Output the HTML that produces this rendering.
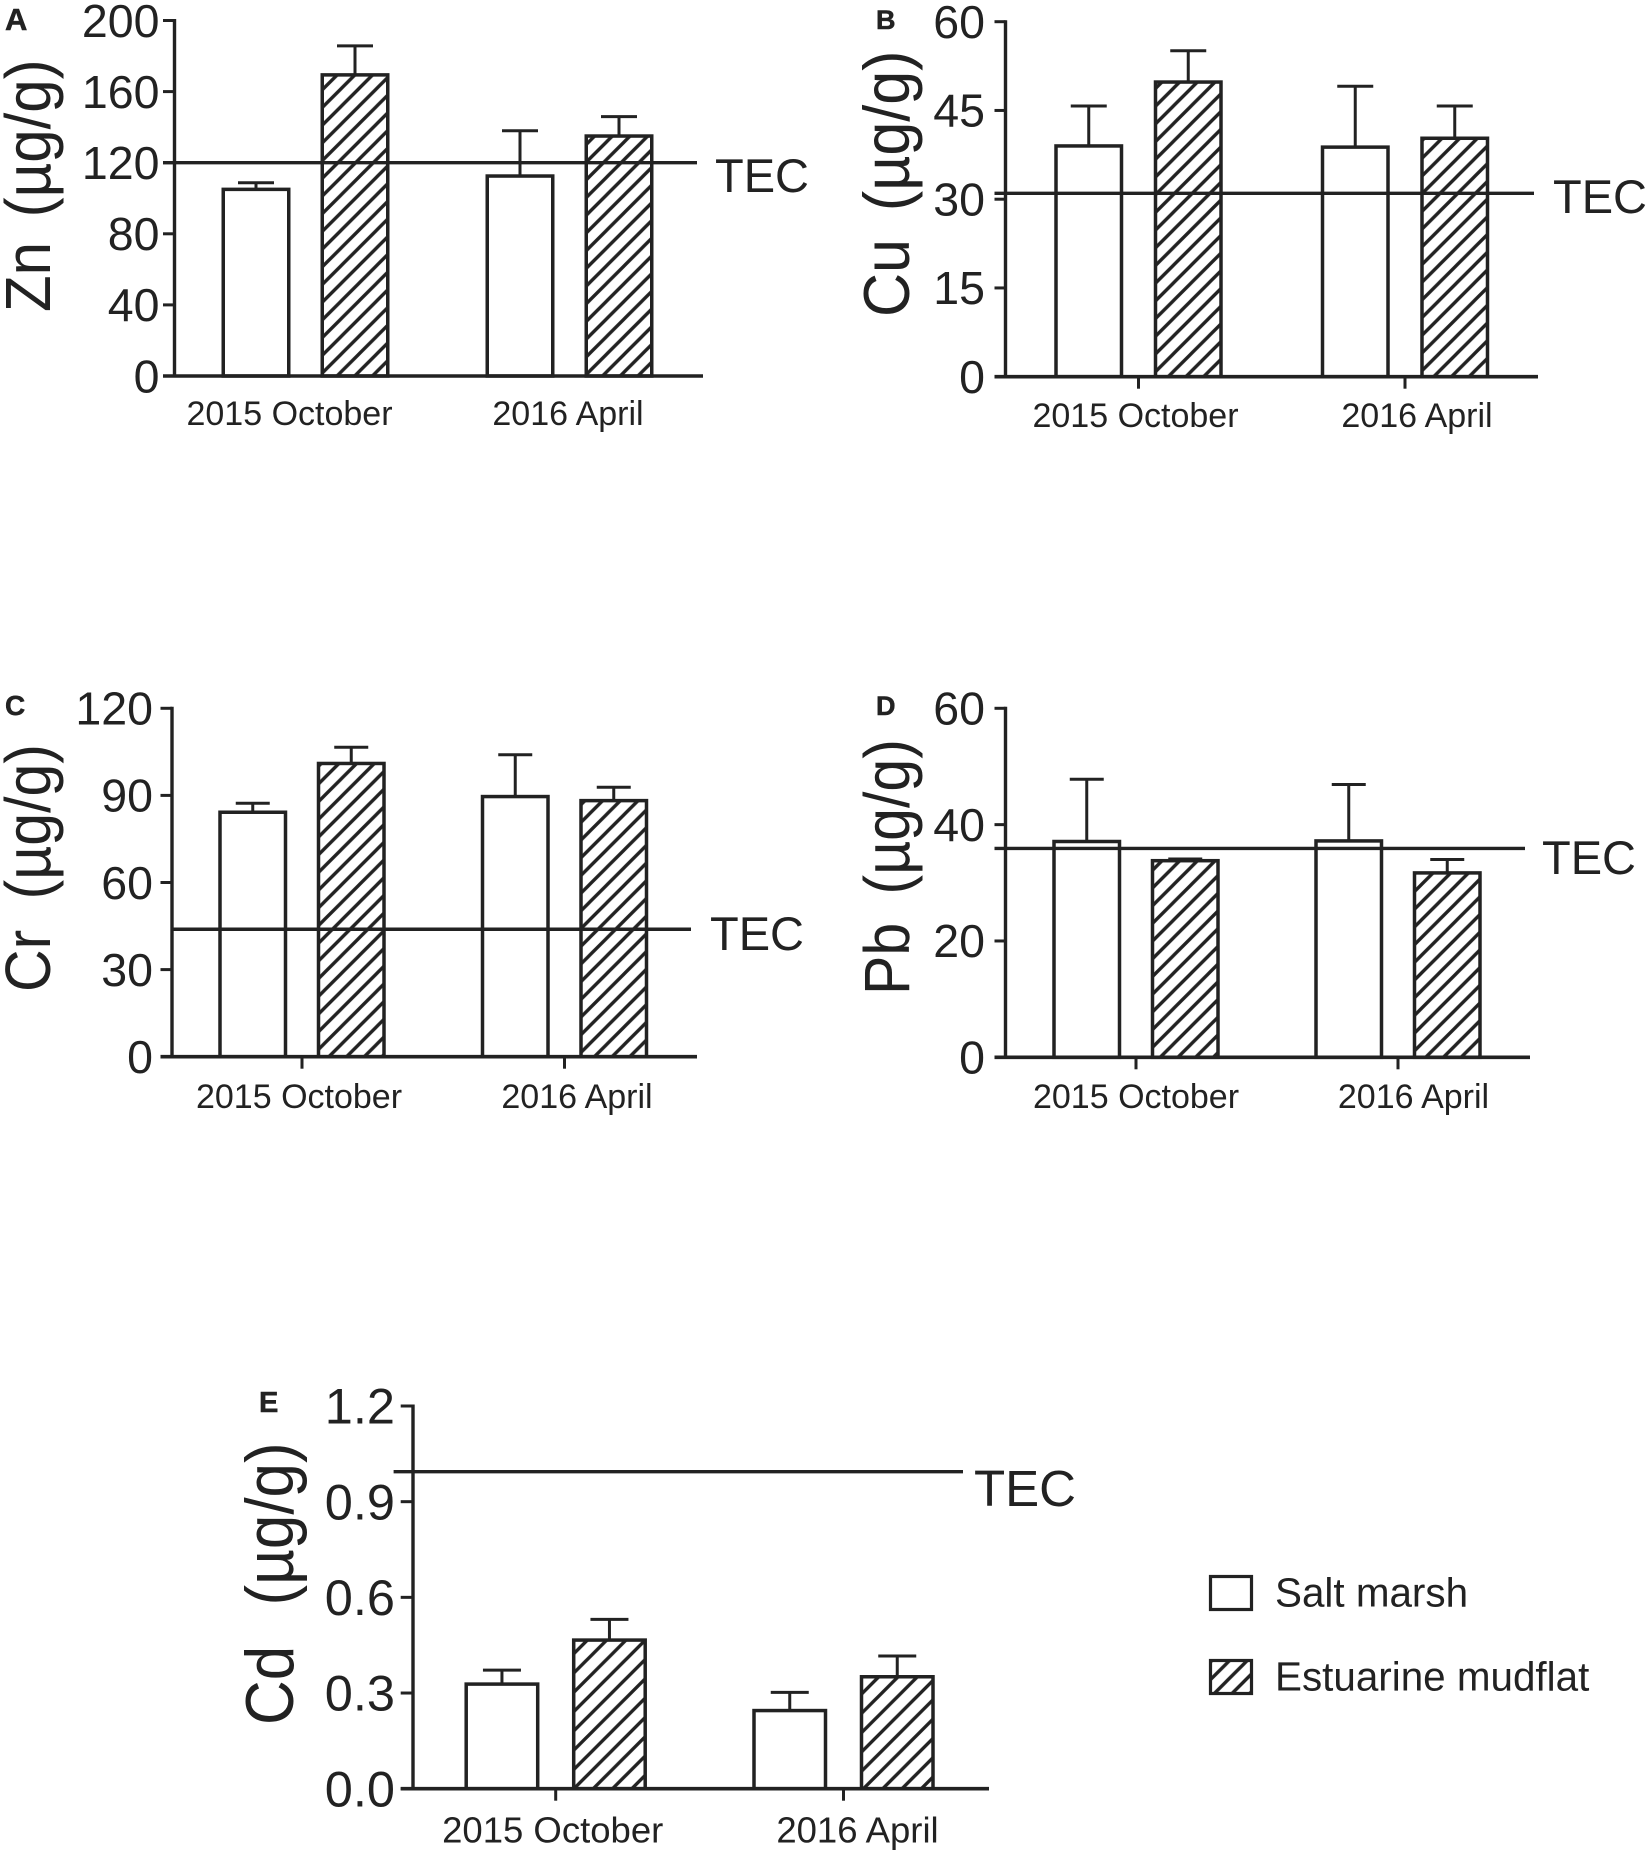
<!DOCTYPE html>
<html lang="en">
<head>
<meta charset="utf-8">
<title>Heavy metal concentrations</title>
<style>
html,body{margin:0;padding:0;background:#fff;}
svg{display:block;}
text{font-family:"Liberation Sans",Arial,sans-serif;fill:#222;}
</style>
</head>
<body>
<svg id="figure" xmlns="http://www.w3.org/2000/svg" width="1650" height="1854" viewBox="0 0 1650 1854"></svg>
<script>
const categories = ['2015 October', '2016 April'];
const seriesNames = ['Salt marsh', 'Estuarine mudflat'];

const znMarsh = [105, 112.5];
const znMudflat = [169.4, 135];
const znMarshSd = [3.7, 25.5];
const znMudflatSd = [16.3, 10.9];
const znTicks = ['0', '40', '80', '120', '160', '200'];
const znTec = 120;

const cuMarsh = [39, 38.8];
const cuMudflat = [49.8, 40.3];
const cuMarshSd = [6.75, 10.3];
const cuMudflatSd = [5.3, 5.45];
const cuTicks = ['0', '15', '30', '45', '60'];
const cuTec = 31;

const crMarsh = [84.2, 89.6];
const crMudflat = [101, 88.2];
const crMarshSd = [3.1, 14.4];
const crMudflatSd = [5.6, 4.6];
const crTicks = ['0', '30', '60', '90', '120'];
const crTec = 43.9;

const pbMarsh = [37.1, 37.2];
const pbMudflat = [33.8, 31.7];
const pbMarshSd = [10.7, 9.7];
const pbMudflatSd = [0.3, 2.3];
const pbTicks = ['0', '20', '40', '60'];
const pbTec = 35.9;

const cdMarsh = [0.328, 0.245];
const cdMudflat = [0.466, 0.351];
const cdMarshSd = [0.044, 0.057];
const cdMudflatSd = [0.065, 0.065];
const cdTicks = ['0.0', '0.3', '0.6', '0.9', '1.2'];
const cdTec = 0.994;

const INK = '#222';
const NS = 'http://www.w3.org/2000/svg';
const svg = document.getElementById('figure');

function make(tag, attrs, parent) {
  const node = document.createElementNS(NS, tag);
  Object.keys(attrs).forEach(function (k) { node.setAttribute(k, attrs[k]); });
  parent.appendChild(node);
  return node;
}

const defs = make('defs', {}, svg);

function hatchPattern(id, spacing, phase) {
  const p = make('pattern', {
    id: id, width: spacing, height: spacing, patternUnits: 'userSpaceOnUse',
    patternTransform: 'translate(' + phase + ' 0)'
  }, defs);
  make('rect', { x: 0, y: 0, width: spacing, height: spacing, fill: '#fff' }, p);
  make('path', {
    d: 'M-2 ' + (spacing + 2) + 'L' + (spacing + 2) + ' -2M-2 2L2 -2M' + (spacing - 2) + ' ' + (spacing + 2) + 'L' + (spacing + 2) + ' ' + (spacing - 2),
    stroke: INK, 'stroke-width': 3.4, fill: 'none'
  }, p);
}

function drawPanel(cfg) {
  const g = make('g', {}, svg);
  
  

  const yMax = parseFloat(cfg.ticks[cfg.ticks.length - 1]);
  const y = function (v) { return cfg.base - (v / yMax) * (cfg.base - cfg.top); };
  const xCat = function (i) { return cfg.cat0 + i * cfg.catStep; };
  const patId = 'hatch-' + cfg.key;
  hatchPattern(patId, cfg.hatch, cfg.phase);

  const letter = make('text', {
    x: cfg.letterX, y: cfg.letterY, 'font-size': cfg.letterSize, 'font-weight': 700,
    stroke: '#222', 'stroke-width': 0.5
  }, g);
  letter.textContent = cfg.letter;
  
  

  const titleFont = cfg.titleSize / cfg.titleSquash;
  const title = make('text', {
    transform: 'translate(' + cfg.titleX + ' ' + cfg.titleBottom + ') rotate(-90) scale(' + cfg.titleSquash + ' 1)',
    x: 0, y: 0, 'font-size': titleFont
  }, g);
  
  
  const titleMetal = make('tspan', {}, title);
  titleMetal.textContent = cfg.metal + ' ';
  const titleUnit = make('tspan', { dx: cfg.titleGap / cfg.titleSquash }, title);
  titleUnit.textContent = '(µg/g)';

  const series = [
    { vals: cfg.marsh, sd: cfg.marshSd, offset: -cfg.barGap / 2, fill: '#fff', name: 'salt-marsh' },
    { vals: cfg.mudflat, sd: cfg.mudflatSd, offset: cfg.barGap / 2, fill: 'url(#' + patId + ')', name: 'estuarine-mudflat' }
  ];

  series.forEach(function (s) {
    s.vals.forEach(function (v, i) {
      const cx = xCat(i) + s.offset;
      const err = make('path', {
        d: 'M' + cx + ' ' + y(v) + 'V' + y(v + s.sd[i]) + 'M' + (cx - cfg.cap / 2) + ' ' + y(v + s.sd[i]) + 'H' + (cx + cfg.cap / 2),
        stroke: INK, 'stroke-width': 3, fill: 'none'
      }, g);
      
      

      const bar = make('rect', {
        x: cx - cfg.barW / 2, y: y(v), width: cfg.barW, height: cfg.base - y(v),
        fill: s.fill, stroke: INK, 'stroke-width': 3.5
      }, g);
      
      
    });
  });

  const tec = make('line', {
    x1: cfg.tecX1, x2: cfg.tecX2, y1: y(cfg.tec), y2: y(cfg.tec), stroke: INK, 'stroke-width': 3.4
  }, g);
  
  

  const tecLabel = make('text', { x: cfg.tecLabelX, y: cfg.tecLabelY, 'font-size': cfg.tecSize }, g);
  tecLabel.textContent = 'TEC';
  
  

  const yAxis = make('line', {
    x1: cfg.axisX, x2: cfg.axisX, y1: cfg.top - 1.5, y2: cfg.base, stroke: INK, 'stroke-width': 3.4
  }, g);
  
  

  const xAxis = make('line', {
    x1: cfg.axisLeft, x2: cfg.axisRight, y1: cfg.base, y2: cfg.base, stroke: INK, 'stroke-width': 3.6
  }, g);
  
  

  cfg.ticks.forEach(function (t) {
    const v = parseFloat(t);
    const tick = make('line', {
      x1: cfg.axisLeft, x2: cfg.axisX, y1: y(v), y2: y(v), stroke: INK, 'stroke-width': 3
    }, g);
    
    

    const label = make('text', {
      x: cfg.tickLabelX, y: y(v) + cfg.tickSize * 0.35, 'font-size': cfg.tickSize, 'text-anchor': 'end'
    }, g);
    label.textContent = t;
    
    
  });

  categories.forEach(function (c, i) {
    if (cfg.xTicks) {
      const tick = make('line', {
        x1: xCat(i), x2: xCat(i), y1: cfg.base, y2: cfg.base + 12, stroke: INK, 'stroke-width': 3
      }, g);
      
      
    }
    const label = make('text', {
      x: xCat(i) + cfg.labelShift[i], y: cfg.catLabelY, 'font-size': cfg.catSize, 'text-anchor': 'middle'
    }, g);
    label.textContent = c;
    
    
  });
}

drawPanel({
  key: 'zn', letter: 'A', letterX: 5, letterY: 30, letterSize: 31, metal: 'Zn', titleGap: 8, titleSquash: 0.94, titleX: 50, titleBottom: 312, titleSize: 60,
  marsh: znMarsh, mudflat: znMudflat, marshSd: znMarshSd, mudflatSd: znMudflatSd, ticks: znTicks, tec: znTec,
  axisX: 174.5, axisLeft: 163, axisRight: 703, top: 20.5, base: 376,
  cat0: 305.5, catStep: 264, barW: 65.5, barGap: 99, cap: 36, hatch: 17.7, phase: 5, xTicks: false,
  labelShift: [-16, -1.5], catLabelY: 425, catSize: 34, tickLabelX: 159.5, tickSize: 46.5,
  tecX1: 163, tecX2: 697, tecLabelX: 715, tecLabelY: 192, tecSize: 47
});
drawPanel({
  key: 'cu', letter: 'B', letterX: 876, letterY: 29, letterSize: 27, metal: 'Cu', titleGap: 11, titleSquash: 0.94, titleX: 909, titleBottom: 317, titleSize: 61,
  marsh: cuMarsh, mudflat: cuMudflat, marshSd: cuMarshSd, mudflatSd: cuMudflatSd, ticks: cuTicks, tec: cuTec,
  axisX: 1005.5, axisLeft: 994.5, axisRight: 1538, top: 21.7, base: 376.7,
  cat0: 1138.5, catStep: 266.5, barW: 65.5, barGap: 99.5, cap: 36, hatch: 17.7, phase: 5, xTicks: true,
  labelShift: [-3, 12], catLabelY: 427, catSize: 34, tickLabelX: 985, tickSize: 46.5,
  tecX1: 994.5, tecX2: 1534, tecLabelX: 1553, tecLabelY: 213, tecSize: 47
});
drawPanel({
  key: 'cr', letter: 'C', letterX: 5, letterY: 715, letterSize: 28, metal: 'Cr', titleGap: 14, titleSquash: 0.92, titleX: 50, titleBottom: 992, titleSize: 59,
  marsh: crMarsh, mudflat: crMudflat, marshSd: crMarshSd, mudflatSd: crMudflatSd, ticks: crTicks, tec: crTec,
  axisX: 172, axisLeft: 160.5, axisRight: 697, top: 708.3, base: 1056.7,
  cat0: 302, catStep: 262.5, barW: 65.5, barGap: 98.5, cap: 34, hatch: 17.7, phase: 5, xTicks: true,
  labelShift: [-3, 12.5], catLabelY: 1108, catSize: 34, tickLabelX: 153, tickSize: 46.5,
  tecX1: 172, tecX2: 691, tecLabelX: 710, tecLabelY: 950, tecSize: 47
});
drawPanel({
  key: 'pb', letter: 'D', letterX: 876, letterY: 715, letterSize: 27, metal: 'Pb', titleGap: 12, titleSquash: 0.92, titleX: 909, titleBottom: 995, titleSize: 59,
  marsh: pbMarsh, mudflat: pbMudflat, marshSd: pbMarshSd, mudflatSd: pbMudflatSd, ticks: pbTicks, tec: pbTec,
  axisX: 1005.5, axisLeft: 994.5, axisRight: 1530, top: 708.3, base: 1057.3,
  cat0: 1136, catStep: 262, barW: 65.5, barGap: 98.5, cap: 34, hatch: 17.7, phase: 5, xTicks: true,
  labelShift: [0, 15.5], catLabelY: 1108, catSize: 34, tickLabelX: 985, tickSize: 46.5,
  tecX1: 994.5, tecX2: 1525, tecLabelX: 1542, tecLabelY: 874, tecSize: 47
});
drawPanel({
  key: 'cd', letter: 'E', letterX: 259, letterY: 1412, letterSize: 29, metal: 'Cd', titleGap: 23, titleSquash: 0.92, titleX: 293, titleBottom: 1725, titleSize: 62,
  marsh: cdMarsh, mudflat: cdMudflat, marshSd: cdMarshSd, mudflatSd: cdMudflatSd, ticks: cdTicks, tec: cdTec,
  axisX: 413, axisLeft: 400.7, axisRight: 989, top: 1406, base: 1788.7,
  cat0: 555.7, catStep: 287.8, barW: 71.5, barGap: 107.5, cap: 38, hatch: 19.3, phase: 8, xTicks: true,
  labelShift: [-3, 14], catLabelY: 1842.7, catSize: 36.5, tickLabelX: 395, tickSize: 50.5,
  tecX1: 393.6, tecX2: 963, tecLabelX: 974, tecLabelY: 1506, tecSize: 51
});

const legend = make('g', {}, svg);


hatchPattern('hatch-legend', 17.7, 5);

seriesNames.forEach(function (name, i) {
  const topY = i === 0 ? 1576.5 : 1660.5;
  const swatch = make('rect', {
    x: 1210.5, y: topY, width: 41, height: 33,
    fill: i === 0 ? '#fff' : 'url(#hatch-legend)', stroke: INK, 'stroke-width': 3.2
  }, legend);
  
  

  const label = make('text', { x: 1275, y: topY + 30, 'font-size': 40.4 }, legend);
  label.textContent = name;
  
  
});
</script>
</body>
</html>
